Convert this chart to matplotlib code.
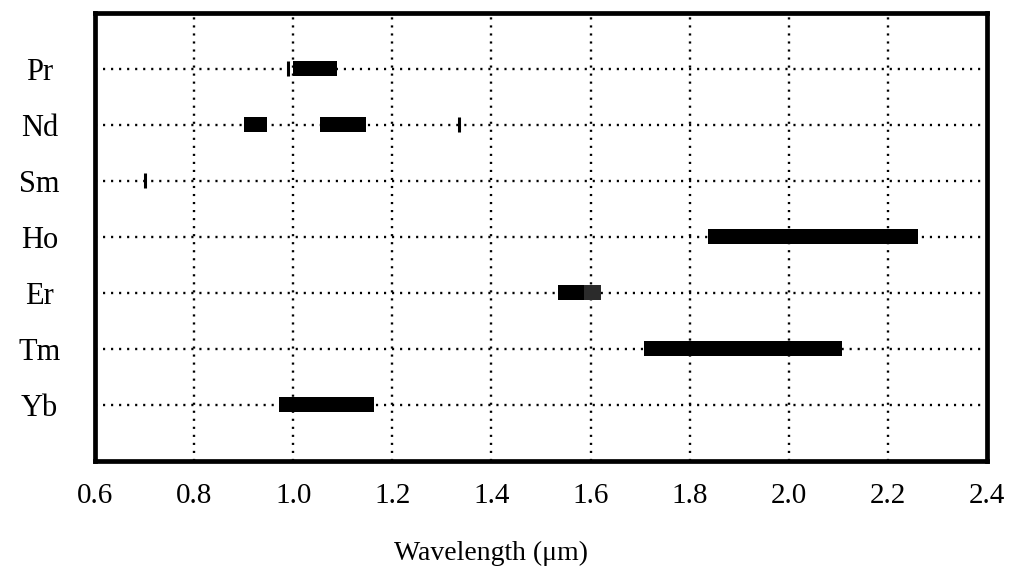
import numpy as np
import matplotlib
matplotlib.use('Agg')
import matplotlib.pyplot as plt

plt.rcParams.update({
    'font.family': 'Liberation Serif',
})

# Emission ranges of rare-earth ions (wavelength in um)
ions = ['Pr', 'Nd', 'Sm', 'Ho', 'Er', 'Tm', 'Yb']

# broad bands: ion, start, end
band_ion = ['Pr', 'Nd', 'Nd', 'Ho', 'Er', 'Tm', 'Yb']
band_start = [1.00, 0.90, 1.055, 1.837, 1.534, 1.708, 0.971]
band_end = [1.088, 0.947, 1.147, 2.261, 1.587, 2.108, 1.163]

# darker-grey tail on the Er band
tail_ion = ['Er']
tail_start = [1.587]
tail_end = [1.621]

# single narrow lines
line_ion = ['Pr', 'Nd', 'Sm']
line_wl = [0.99, 1.335, 0.70]

xticks = [0.6, 0.8, 1.0, 1.2, 1.4, 1.6, 1.8, 2.0, 2.2, 2.4]

fig = plt.figure(figsize=(10.11, 5.75), dpi=100)
ax = fig.add_axes([95 / 1011, 1 - 460.5 / 575, 892 / 1011, 448 / 575])

row = {name: i + 1 for i, name in enumerate(ions)}

# dotted grid
dot = dict(color='black', linewidth=1.7, linestyle=(0, (0.9, 2.5)), zorder=1)
for x in xticks[1:-1]:
    ax.axvline(x, **dot)
for name in ions:
    ax.axhline(row[name], **dot)

bar_h = 0.27
ax.barh([row[n] for n in band_ion], np.array(band_end) - np.array(band_start),
        left=band_start, height=bar_h, color='black', zorder=3)
ax.barh([row[n] for n in tail_ion], np.array(tail_end) - np.array(tail_start),
        left=tail_start, height=bar_h, color='#2b2b2b', zorder=3)
ax.vlines(line_wl, [row[n] - 0.13 for n in line_ion], [row[n] + 0.13 for n in line_ion],
          color='black', linewidth=2.2, zorder=3)

ax.set_xlim(0.6, 2.4)
ax.set_ylim(8, 0)
ax.set_xticks(xticks)
ax.set_xticklabels([f'{v:.1f}' for v in xticks], fontsize=21)
ax.set_yticks([row[n] for n in ions])
ax.set_yticklabels(ions, fontsize=22, ha='center')
ax.tick_params(axis='x', length=0, pad=16)
ax.tick_params(axis='y', length=0, pad=40)

for s in ax.spines.values():
    s.set_linewidth(3.4)
    s.set_color('black')

fig.text(491 / 1011, 1 - 553 / 575, 'Wavelength (μm)', fontsize=20,
         ha='center', va='center')

fig.savefig('out.png', dpi=100)
